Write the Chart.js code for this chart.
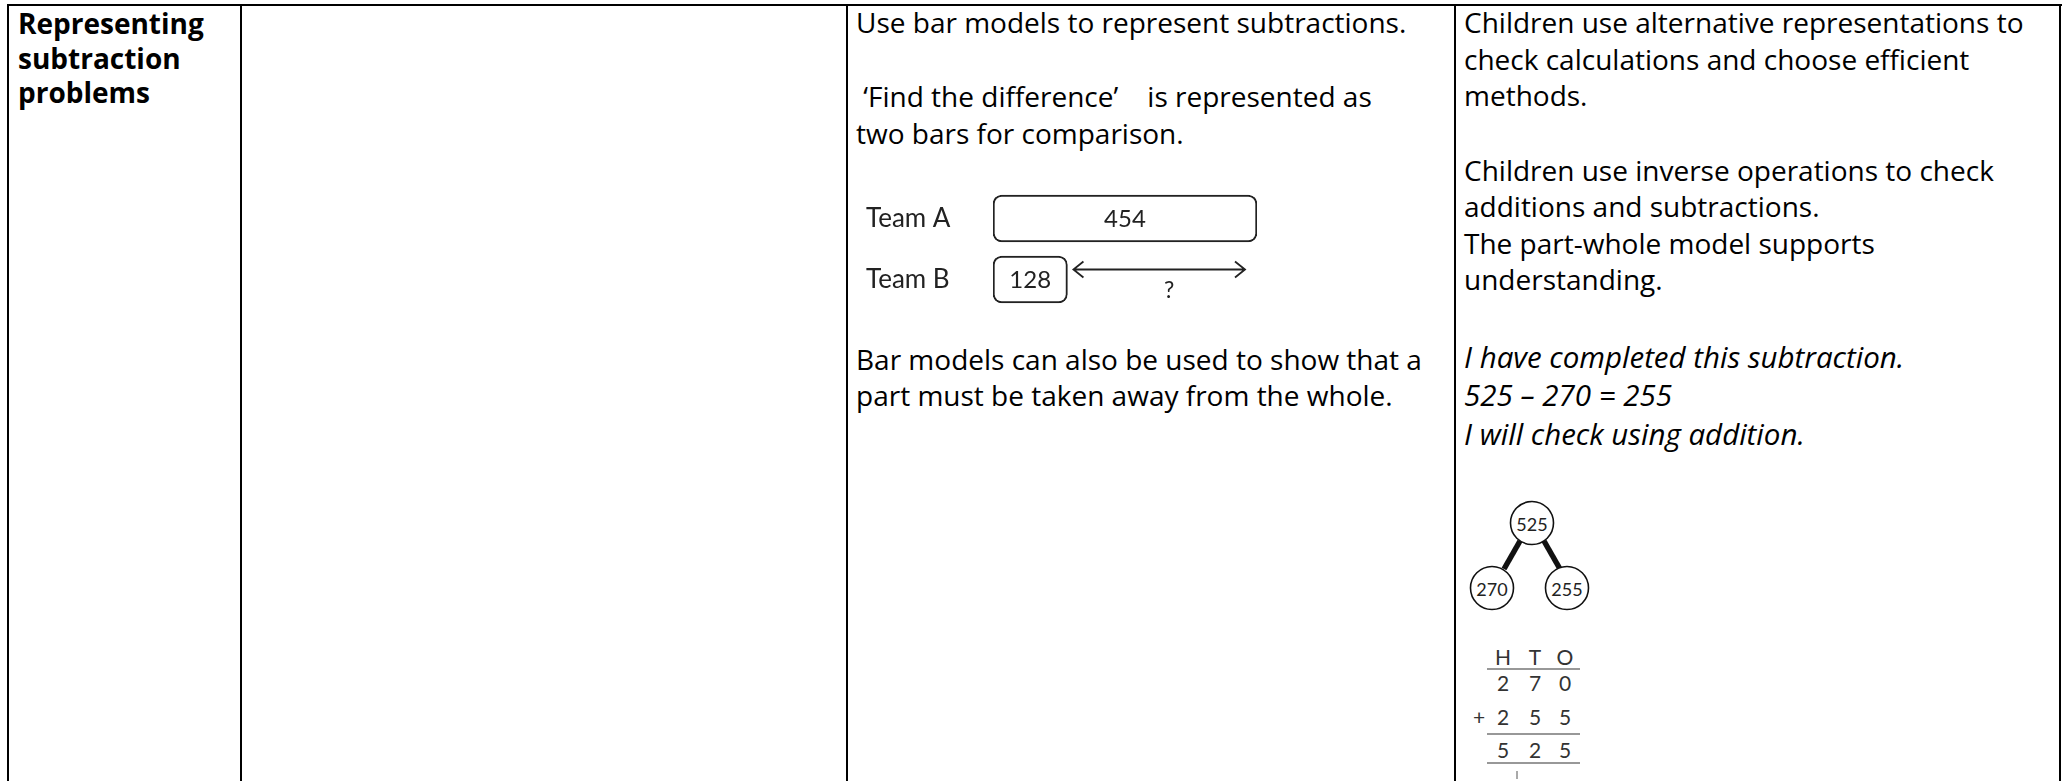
<!DOCTYPE html>
<html><head><meta charset="utf-8">
<script src="https://cdn.jsdelivr.net/npm/chart.js@4"></script>
<style>
html,body{margin:0;padding:0;background:#fff;}
body{width:2065px;height:781px;position:relative;overflow:hidden;font-family:"Open Sans",sans-serif;color:#000;}
.vl{position:absolute;top:4px;height:777px;width:2px;background:#000;}
.hl{position:absolute;height:2px;background:#000;}
.t{position:absolute;white-space:pre;line-height:1;}
.b{font-weight:700;}
.i{font-style:italic;}
#bm{position:absolute;left:866px;top:188px;}
#pw{position:absolute;left:1450px;top:480px;}
</style></head>
<body>
<div class="hl" style="left:7px;top:4px;width:2055px"></div>
<div class="vl" style="left:7px"></div>
<div class="vl" style="left:240px"></div>
<div class="vl" style="left:846px"></div>
<div class="vl" style="left:1454px"></div>
<div class="vl" style="left:2059px"></div>
<div id="texts"></div>
<canvas id="bm" width="395" height="122"></canvas>
<svg id="pw" width="180" height="301" xmlns="http://www.w3.org/2000/svg"></svg>
<script>
// ---- data ----
const categories = ['Team A', 'Team B'];
const teamValues = [454, 128];
const differenceLabel = '?';
const wholeValue = 525;
const partValues = [270, 255];
const placeValueHeaders = ['H', 'T', 'O'];

// ---- text lines: [text, x, baseline, class] ----
const sizes = { b: 28, '': 28, i: 29.5 };
const lines = [
  ['Representing', 18, 34, 'b'],
  ['subtraction', 18, 68.5, 'b'],
  ['problems', 18, 103, 'b'],
  ['Use bar models to represent subtractions.', 856, 33, ''],
  [' \u2018Find the difference\u2019    is represented as', 856, 107, ''],
  ['two bars for comparison.', 856, 143.5, ''],
  ['Bar models can also be used to show that a', 856, 369.5, ''],
  ['part must be taken away from the whole.', 856, 406, ''],
  ['Children use alternative representations to', 1464, 33, ''],
  ['check calculations and choose efficient', 1464, 69.5, ''],
  ['methods.', 1464, 106, ''],
  ['Children use inverse operations to check', 1464, 180.5, ''],
  ['additions and subtractions.', 1464, 217, ''],
  ['The part-whole model supports', 1464, 253.5, ''],
  ['understanding.', 1464, 290, ''],
  ['I have completed this subtraction.', 1464, 368, 'i'],
  [wholeValue + ' \u2013 ' + partValues[0] + ' = ' + partValues[1], 1464, 406.5, 'i'],
  ['I will check using addition.', 1464, 445, 'i']
];
const tc = document.getElementById('texts');
lines.forEach(([s, x, bl, cls]) => {
  const F = sizes[cls];
  const d = document.createElement('div');
  d.className = 't ' + cls;
  d.textContent = s;
  d.style.fontSize = F + 'px';
  d.style.left = x + 'px';
  d.style.top = (bl - 0.888 * F) + 'px';
  tc.appendChild(d);
});

// ---- bar model with Chart.js ----
const barFont = '"Lato", sans-serif';
const valueLabels = {
  id: 'valueLabels',
  afterDatasetsDraw(chart) {
    const ctx = chart.ctx;
    const meta = chart.getDatasetMeta(0);
    ctx.save();
    ctx.fillStyle = '#222';
    ctx.font = '24px ' + barFont;
    ctx.textAlign = 'center';
    ctx.textBaseline = 'middle';
    meta.data.forEach((el, i) => {
      ctx.fillText(String(teamValues[i]), (el.x + el.base) / 2, el.y + 1);
    });
    // difference arrow from Team B end to Team A end
    const b = meta.data[1];
    const xs = chart.scales.x;
    const x0 = b.x + 6, x1 = xs.getPixelForValue(teamValues[0]) - 12, y = b.y - 10;
    ctx.strokeStyle = '#222';
    ctx.lineWidth = 1.8;
    ctx.beginPath();
    ctx.moveTo(x0, y); ctx.lineTo(x1, y);
    ctx.moveTo(x0 + 10, y - 8); ctx.lineTo(x0, y); ctx.lineTo(x0 + 10, y + 8);
    ctx.moveTo(x1 - 10, y - 8); ctx.lineTo(x1, y); ctx.lineTo(x1 - 10, y + 8);
    ctx.stroke();
    ctx.font = '23px ' + barFont;
    ctx.fillText(differenceLabel, (x0 + x1) / 2 + 10, y + 21);
    ctx.restore();
  }
};
new Chart(document.getElementById('bm'), {
  type: 'bar',
  data: {
    labels: categories,
    datasets: [{
      data: teamValues,
      backgroundColor: '#fff',
      borderColor: '#222',
      borderWidth: 2,
      borderRadius: 9,
      borderSkipped: false,
      barThickness: 47
    }]
  },
  options: {
    indexAxis: 'y',
    responsive: false,
    animation: false,
    devicePixelRatio: 1,
    layout: { padding: { left: 0, right: 4, top: 0, bottom: 0 } },
    plugins: { legend: { display: false }, tooltip: { enabled: false } },
    scales: {
      x: { display: false, min: 0, max: Math.max(...teamValues) },
      y: {
        grid: { display: false },
        border: { display: false },
        ticks: { crossAlign: 'far', padding: 0, color: '#222', font: { family: 'Lato', size: 26 } },
        afterFit(s) { s.width = 127; s.paddingTop = 0; s.paddingBottom = 0; }
      }
    }
  },
  plugins: [valueLabels]
});

// ---- part-whole model and column addition ----
const svg = document.getElementById('pw');
const NS = 'http://www.w3.org/2000/svg';
function el(tag, attrs, text) {
  const e = document.createElementNS(NS, tag);
  for (const k in attrs) e.setAttribute(k, attrs[k]);
  if (text !== undefined) e.textContent = text;
  svg.appendChild(e);
  return e;
}
const nodes = [[82, 43, wholeValue], [42, 108, partValues[0]], [117, 108, partValues[1]]];
el('line', { x1: 70, y1: 61, x2: 54, y2: 89, stroke: '#111', 'stroke-width': 5.5 });
el('line', { x1: 94, y1: 61, x2: 110, y2: 89, stroke: '#111', 'stroke-width': 5.5 });
nodes.forEach(([cx, cy, v]) => {
  el('circle', { cx, cy, r: 21.5, fill: '#fff', stroke: '#111', 'stroke-width': 1.6 });
  el('text', { x: cx, y: cy + 1, 'text-anchor': 'middle', 'dominant-baseline': 'central', 'font-family': 'Lato', 'font-size': 18, fill: '#222' }, String(v));
});
const colX = [53, 85, 115];
function row(chars, y) {
  chars.forEach((c, i) => el('text', { x: colX[i], y, 'text-anchor': 'middle', 'dominant-baseline': 'central', 'font-family': 'Lato', 'font-size': 21, fill: '#333' }, c));
}
row(placeValueHeaders, 176);
row(String(partValues[0]).split(''), 202);
row(String(partValues[1]).split(''), 236);
el('text', { x: 29, y: 236, 'text-anchor': 'middle', 'dominant-baseline': 'central', 'font-family': 'Lato', 'font-size': 21, fill: '#333' }, '+');
row(String(partValues[0] + partValues[1]).split(''), 269);
[189, 254, 283].forEach(y => el('line', { x1: 37, y1: y, x2: 130, y2: y, stroke: '#333', 'stroke-width': 1.2 }));
el('line', { x1: 67, y1: 291, x2: 67, y2: 299, stroke: '#555', 'stroke-width': 1 });
</script>
</body></html>
